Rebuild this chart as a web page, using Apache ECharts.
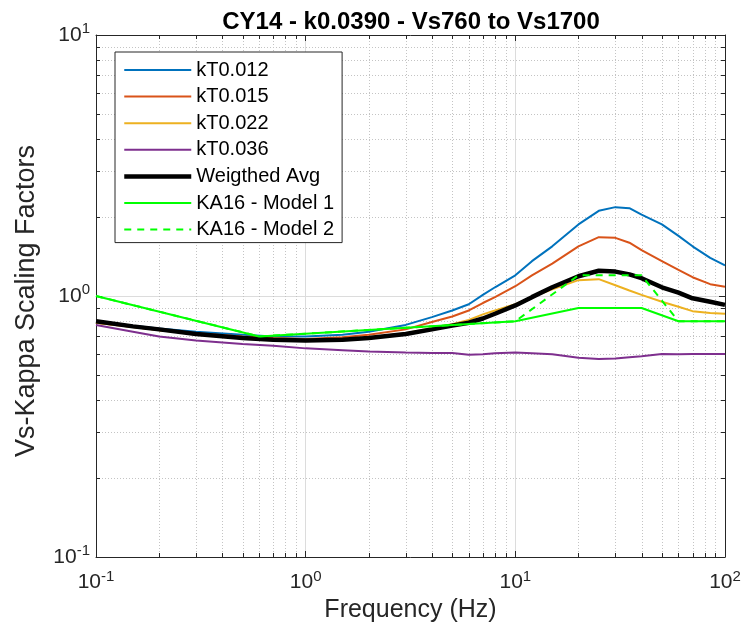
<!DOCTYPE html>
<html>
<head>
<meta charset="utf-8">
<script src="https://cdn.jsdelivr.net/npm/echarts@6/dist/echarts.min.js"></script>
<style>html,body{margin:0;padding:0;background:#fff}#c{width:745px;height:638px}</style>
</head>
<body>
<div id="c"></div>
<script>
const freq = [0.1, 0.15, 0.2, 0.3, 0.5, 0.7, 1, 1.5, 2, 3, 4, 5, 6, 7, 8, 10, 12, 15, 20, 25, 30, 35, 40, 50, 60, 70, 85, 100];
const kT0012 = [0.80, 0.77, 0.75, 0.73, 0.71, 0.70, 0.70, 0.71, 0.73, 0.775, 0.83, 0.88, 0.93, 1.01, 1.08, 1.20, 1.36, 1.55, 1.88, 2.12, 2.19, 2.17, 2.05, 1.88, 1.70, 1.55, 1.40, 1.31];
const kT0015 = [0.79, 0.76, 0.74, 0.72, 0.70, 0.69, 0.685, 0.695, 0.71, 0.745, 0.795, 0.835, 0.88, 0.94, 0.99, 1.09, 1.20, 1.33, 1.55, 1.68, 1.67, 1.60, 1.50, 1.36, 1.26, 1.18, 1.11, 1.085];
const kT0022 = [0.79, 0.76, 0.74, 0.715, 0.695, 0.685, 0.68, 0.685, 0.695, 0.72, 0.755, 0.78, 0.81, 0.85, 0.88, 0.93, 0.99, 1.06, 1.15, 1.16, 1.10, 1.05, 1.01, 0.95, 0.91, 0.875, 0.86, 0.855];
const kT0036 = [0.775, 0.73, 0.70, 0.675, 0.655, 0.645, 0.63, 0.62, 0.613, 0.607, 0.605, 0.605, 0.596, 0.598, 0.603, 0.607, 0.604, 0.598, 0.58, 0.574, 0.576, 0.583, 0.588, 0.60, 0.598, 0.60, 0.60, 0.60];
const weightedAvg = [0.80, 0.765, 0.745, 0.715, 0.69, 0.68, 0.675, 0.68, 0.69, 0.715, 0.745, 0.77, 0.79, 0.82, 0.855, 0.92, 0.99, 1.08, 1.19, 1.25, 1.24, 1.21, 1.17, 1.08, 1.03, 0.98, 0.95, 0.925];
const ka16m1Freq = [0.1, 0.6, 10, 20, 40, 60, 100];
const ka16m1 = [1.0, 0.70, 0.80, 0.90, 0.90, 0.80, 0.80];
const ka16m2Freq = [0.1, 0.6, 10, 20, 40, 60, 100];
const ka16m2 = [1.0, 0.70, 0.80, 1.20, 1.20, 0.80, 0.80];
const minorXTicks = [0.2,0.3,0.4,0.5,0.6,0.7,0.8,0.9,2,3,4,5,6,7,8,9,20,30,40,50,60,70,80,90];
const minorYTicks = [0.2,0.3,0.4,0.5,0.6,0.7,0.8,0.9,2,3,4,5,6,7,8,9];
const legendNames = ['kT0.012','kT0.015','kT0.022','kT0.036','Weigthed Avg','KA16 - Model 1','KA16 - Model 2'];

const pair = (xs, ys) => xs.map((x, i) => [x, ys[i]]);
const FONT = '"Liberation Sans", Arial, Helvetica, sans-serif';
const AX = '#262626';

const chart = echarts.init(document.getElementById('c'), null, {renderer: 'canvas'});

const supFmt = v => '{b|10}{s|' + Math.round(Math.log10(v)) + '}';
const richLbl = {
  b: {fontSize: 21, fontFamily: FONT, color: '#262626'},
  s: {fontSize: 15, fontFamily: FONT, color: '#262626', verticalAlign: 'top', padding: [0, 0, 12, 0]}
};

function minorSeries(values, isX) {
  return {
    type: 'custom',
    silent: true,
    z: 1,
    xAxisIndex: 0, yAxisIndex: 0,
    data: values.map(v => isX ? [v, 1] : [1, v]),
    renderItem: function (params, api) {
      const cs = params.coordSys;
      const p = api.coord([api.value(0), api.value(1)]);
      const grid = {stroke: '#c4c4c4', lineWidth: 1, lineDash: [1, 2]};
      const tick = {stroke: AX, lineWidth: 1};
      if (isX) {
        const x = Math.round(p[0]) + 0.5;
        return {type: 'group', children: [
          {type: 'line', shape: {x1: x, y1: cs.y, x2: x, y2: cs.y + cs.height}, style: grid},
          {type: 'line', shape: {x1: x, y1: cs.y + cs.height, x2: x, y2: cs.y + cs.height - 4}, style: tick},
          {type: 'line', shape: {x1: x, y1: cs.y, x2: x, y2: cs.y + 4}, style: tick}
        ]};
      } else {
        const y = Math.round(p[1]) + 0.5;
        return {type: 'group', children: [
          {type: 'line', shape: {x1: cs.x, y1: y, x2: cs.x + cs.width, y2: y}, style: grid},
          {type: 'line', shape: {x1: cs.x, y1: y, x2: cs.x + 4, y2: y}, style: tick},
          {type: 'line', shape: {x1: cs.x + cs.width, y1: y, x2: cs.x + cs.width - 4, y2: y}, style: tick}
        ]};
      }
    }
  };
}

function lineSeries(name, data, color, width, dashed) {
  return {
    name: name, type: 'line', data: data, symbol: 'none', smooth: false, z: 3,
    xAxisIndex: 0, yAxisIndex: 0,
    lineStyle: {color: color, width: width, type: dashed ? [7, 6] : 'solid'},
    itemStyle: {color: color},
    emphasis: {disabled: true},
    animation: false
  };
}

const seriesColors = ['#0072BD', '#D95319', '#EDB120', '#7E2F8E', '#000000', '#00FF00', '#00FF00'];
const seriesWidths = [2, 2, 2, 2, 4.5, 2, 2];

const axisCommon = {
  type: 'log', logBase: 10, min: 0.1,
  axisLine: {show: true, onZero: false, lineStyle: {color: AX, width: 1}},
  axisTick: {show: true, inside: true, length: 6, lineStyle: {color: AX}},
  minorTick: {show: false},
  minorSplitLine: {show: false}
};

chart.setOption({
  animation: false,
  backgroundColor: '#fff',
  title: {
    text: 'CY14 - k0.0390 - Vs760 to Vs1700',
    left: 406, top: 5, textAlign: 'center',
    textStyle: {fontSize: 24, fontWeight: 'bold', fontFamily: FONT, color: '#000'}
  },
  grid: {left: 96, right: 20, top: 35, bottom: 81, containLabel: false},
  legend: {
    data: legendNames.map((n, i) => ({
      name: n,
      lineStyle: {width: seriesWidths[i], color: seriesColors[i], type: i === 6 ? [7, 6] : 'solid'}
    })),
    orient: 'vertical',
    left: 115, top: 52,
    padding: [8, 8, 3, 7],
    itemWidth: 67, itemHeight: 14, itemGap: 6.6,
    itemStyle: {opacity: 0},
    backgroundColor: '#fff',
    borderColor: '#262626', borderWidth: 1,
    textStyle: {fontSize: 20, lineHeight: 20, fontFamily: FONT, color: '#000'},
    selectedMode: false
  },
  xAxis: [
    Object.assign({}, axisCommon, {
      max: 100, position: 'bottom', splitNumber: 3,
      name: 'Frequency (Hz)', nameLocation: 'middle', nameGap: 40,
      nameTextStyle: {fontSize: 25, fontFamily: FONT, color: '#262626'},
      axisLabel: {formatter: supFmt, rich: richLbl, margin: 12},
      splitLine: {show: true, lineStyle: {color: '#dcdcdc', width: 1}}
    }),
    Object.assign({}, axisCommon, {
      max: 100, position: 'top', splitNumber: 3,
      axisLabel: {show: false}, splitLine: {show: false}
    })
  ],
  yAxis: [
    Object.assign({}, axisCommon, {
      max: 10, position: 'left', splitNumber: 2,
      name: 'Vs-Kappa Scaling Factors', nameLocation: 'middle', nameGap: 56,
      nameTextStyle: {fontSize: 27, fontFamily: FONT, color: '#262626', padding: [0, 10, 0, 0]},
      axisLabel: {formatter: supFmt, rich: richLbl, margin: 6},
      splitLine: {show: true, lineStyle: {color: '#dcdcdc', width: 1}}
    }),
    Object.assign({}, axisCommon, {
      max: 10, position: 'right', splitNumber: 2,
      axisLabel: {show: false}, splitLine: {show: false}
    })
  ],
  series: [
    minorSeries(minorXTicks, true),
    minorSeries(minorYTicks, false),
    lineSeries('kT0.012', pair(freq, kT0012), seriesColors[0], seriesWidths[0]),
    lineSeries('kT0.015', pair(freq, kT0015), seriesColors[1], seriesWidths[1]),
    lineSeries('kT0.022', pair(freq, kT0022), seriesColors[2], seriesWidths[2]),
    lineSeries('kT0.036', pair(freq, kT0036), seriesColors[3], seriesWidths[3]),
    lineSeries('Weigthed Avg', pair(freq, weightedAvg), seriesColors[4], seriesWidths[4]),
    lineSeries('KA16 - Model 1', pair(ka16m1Freq, ka16m1), seriesColors[5], seriesWidths[5]),
    lineSeries('KA16 - Model 2', pair(ka16m2Freq, ka16m2), seriesColors[6], seriesWidths[6], true)
  ]
});
</script>
</body>
</html>
